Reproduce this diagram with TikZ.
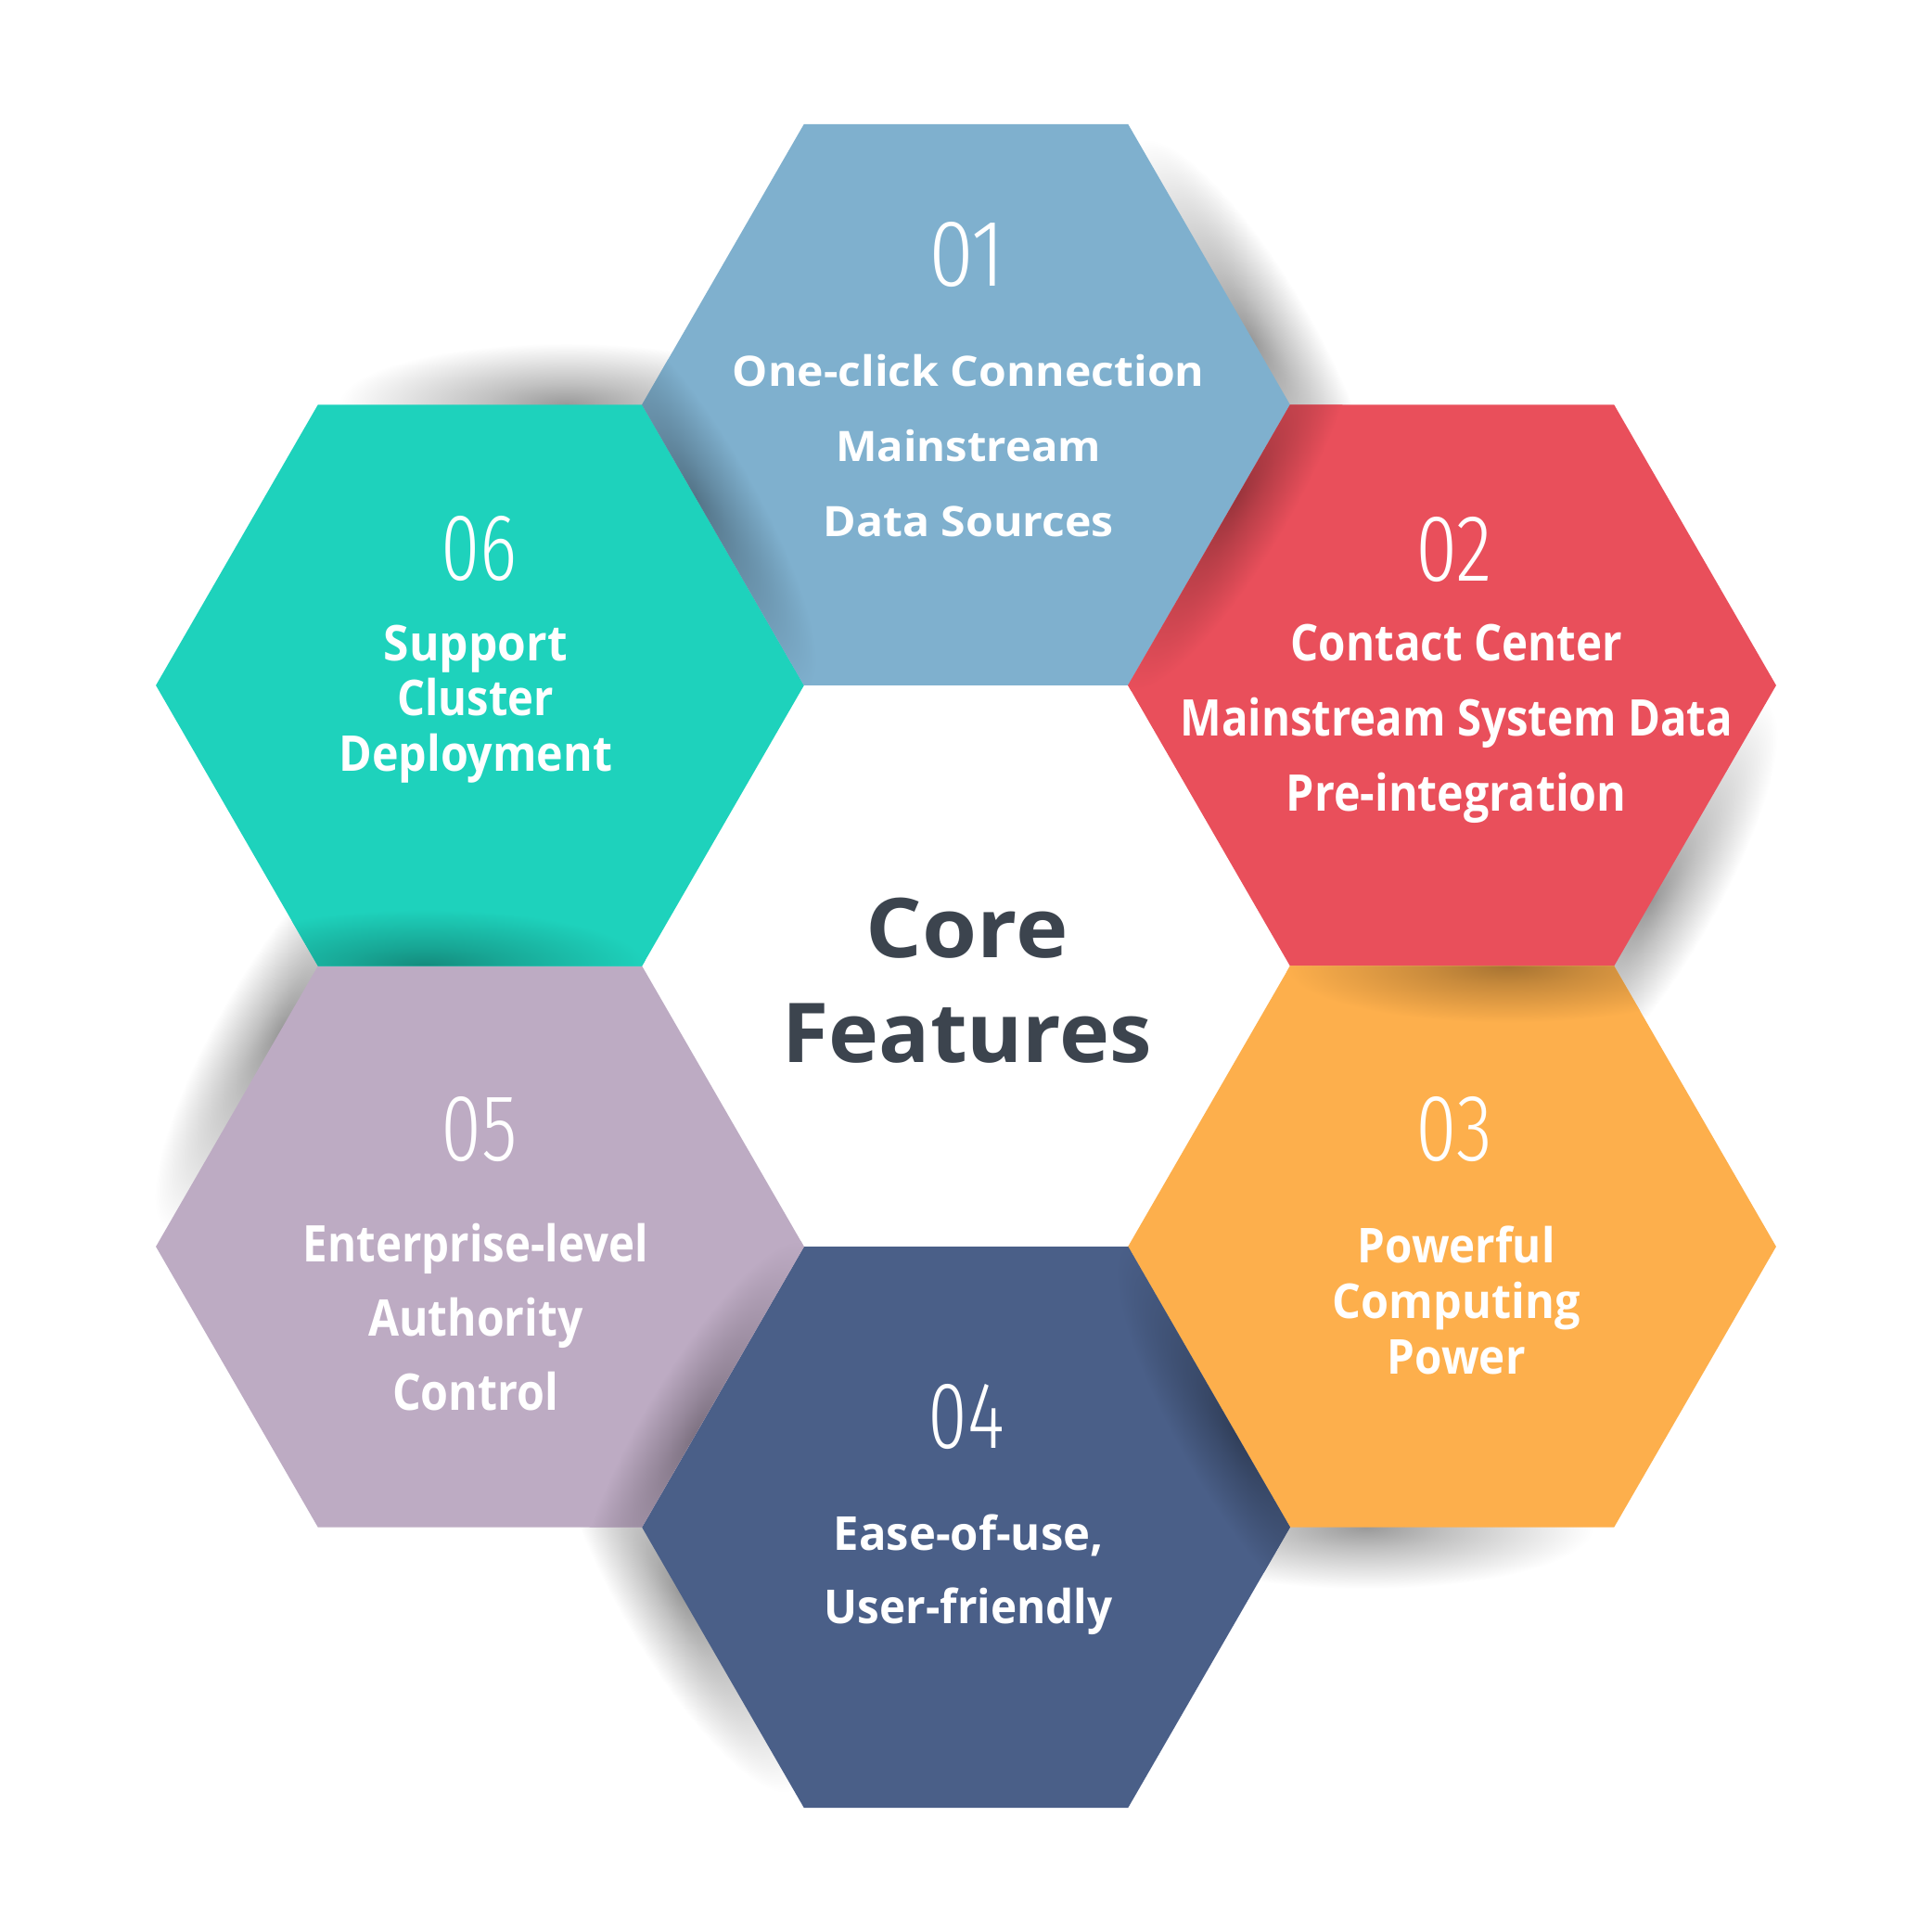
\documentclass[tikz,border=0pt]{standalone}
\usepackage{fontspec}
\setmainfont{Open Sans}
\IfFontExistsTF{Fira Sans Condensed Light}{\newfontfamily\numfont{Fira Sans Condensed Light}}{%
 \IfFontExistsTF{Fira Sans Light}{\newfontfamily\numfont{Fira Sans Light}}{%
  \IfFontExistsTF{Lato Light}{\newfontfamily\numfont{Lato Light}}{\newfontfamily\numfont{DejaVu Sans}}}}
\usetikzlibrary{shapes.geometric}
\definecolor{cA}{HTML}{7FB0CE}
\definecolor{cB}{HTML}{E94F5B}
\definecolor{cC}{HTML}{FDAF4C}
\definecolor{cD}{HTML}{4A5F88}
\definecolor{cE}{HTML}{BDABC3}
\definecolor{cF}{HTML}{1ED2BC}
\definecolor{ttl}{HTML}{3C444E}
\colorlet{shIn}{black}
\colorlet{shOut}{white}
\pgfdeclareradialshading[shIn,shOut]{edgeshade}{\pgfpointorigin}{%
  color(0bp)=(shIn); color(9bp)=(shIn!60!shOut); color(25bp)=(shOut); color(50bp)=(shOut)}
\newcommand\fitw[2]{\sbox0{#2}\pgfmathsetmacro\fitsx{#1/\the\wd0}\scalebox{\fitsx}[1]{\usebox0}}
\newcommand\blk[3]{{\fontsize{#1}{#2}\selectfont\bfseries\begin{tabular}[t]{@{}c@{}}#3\end{tabular}}}
\newcommand\num[1]{\resizebox{62pt}{52pt}{\fontsize{72}{72}\selectfont\numfont #1}}
\tikzset{
  hexa/.style={regular polygon, regular polygon sides=6, minimum size=526pt, inner sep=0pt, outer sep=0pt, draw=none},
  txt/.style={anchor=base, inner sep=0pt, text=white},
}
\begin{document}
\begin{tikzpicture}[x=1pt,y=1pt]
\useasboundingbox (0,0) rectangle (1568,1568);
\fill[white] (0,0) rectangle (1568,1568);
% outer shadows (cast on the white ground)
\foreach \t in {90,30,-30,-90,-150,150}{
  \pgfmathsetmacro\mx{784+455.5*cos(\t)+227.75*cos(\t-60)}
  \pgfmathsetmacro\my{784+455.5*sin(\t)+227.75*sin(\t-60)}
  \pgfmathsetmacro\rot{\t-150}
  \colorlet{shIn}{black!40}\colorlet{shOut}{white}
  \begin{scope}[transform canvas={shift={(\mx,\my)},rotate=\rot}]
    \shade[shading=edgeshade] (70,0) ellipse [x radius=185, y radius=50];
  \end{scope}
}
% hexagons
\node[hexa, fill=cA] (h1) at (784,1239.5) {};
\node[hexa, fill=cB] (h2) at (1178.48,1011.75) {};
\node[hexa, fill=cC] (h3) at (1178.48,556.25) {};
\node[hexa, fill=cD] (h4) at (784,328.5) {};
\node[hexa, fill=cE] (h5) at (389.52,556.25) {};
\node[hexa, fill=cF] (h6) at (389.52,1011.75) {};
% inner shadings
\foreach \i/\t/\col in {1/90/cA,2/30/cB,3/-30/cC,4/-90/cD,5/-150/cE,6/150/cF}{
  \pgfmathsetmacro\cx{784+455.5*cos(\t)}
  \pgfmathsetmacro\cy{784+455.5*sin(\t)}
  \pgfmathsetmacro\mx{\cx+227.75*cos(\t+120)}
  \pgfmathsetmacro\my{\cy+227.75*sin(\t+120)}
  \pgfmathsetmacro\rot{\t+30}
  \colorlet{shIn}{\col!66!black}\colorlet{shOut}{\col}
  \begin{scope}
    \clip (h\i.corner 1) -- (h\i.corner 2) -- (h\i.corner 3) -- (h\i.corner 4) -- (h\i.corner 5) -- (h\i.corner 6) -- cycle;
    \begin{scope}[transform canvas={shift={(\mx,\my)},rotate=\rot}]
      \shade[shading=edgeshade] (45,0) ellipse [x radius=180, y radius=46];
    \end{scope}
  \end{scope}
}
% numbers
\node[txt] (n1) at (785,1336) {\num{01}};
\node[txt] (n2) at (1180,1096.5) {\num{02}};
\node[txt] (n3) at (1180,626) {\num{03}};
\node[txt] (n4) at (784,392.5) {\num{04}};
\node[txt] (n5) at (389,626) {\num{05}};
\node[txt] (n6) at (389,1097) {\num{06}};
% texts
\node[txt] (t1) at (786,1254.5) {\blk{34}{61}{\fitw{383}{One-click Connection}\\\fitw{215}{Mainstream}\\\fitw{236}{Data Sources}}};
\node[txt] (t2) at (1182,1032) {\blk{41}{61}{\fitw{269}{Contact Center}\\\fitw{448}{Mainstream System Data}\\\fitw{276}{Pre-integration}}};
\node[txt] (t3) at (1182,543) {\blk{39}{45}{\fitw{160}{Powerful}\\\fitw{201}{Computing}\\\fitw{112}{Power}}};
\node[txt] (t4) at (786,310) {\blk{38}{60}{\fitw{219}{Ease-of-use,}\\\fitw{234}{User-friendly}}};
\node[txt] (t5) at (386,543.5) {\blk{41}{60}{\fitw{280}{Enterprise-level}\\\fitw{174}{Authority}\\\fitw{135}{Control}}};
\node[txt] (t6) at (386,1032) {\blk{40}{45}{\fitw{149}{Support}\\\fitw{127}{Cluster}\\\fitw{222}{Deployment}}};
\node[anchor=base, inner sep=0pt, text=ttl] (title) at (785,791) {\blk{67}{85}{\fitw{164}{Core}\\\fitw{300}{Features}}};
\end{tikzpicture}
\end{document}
